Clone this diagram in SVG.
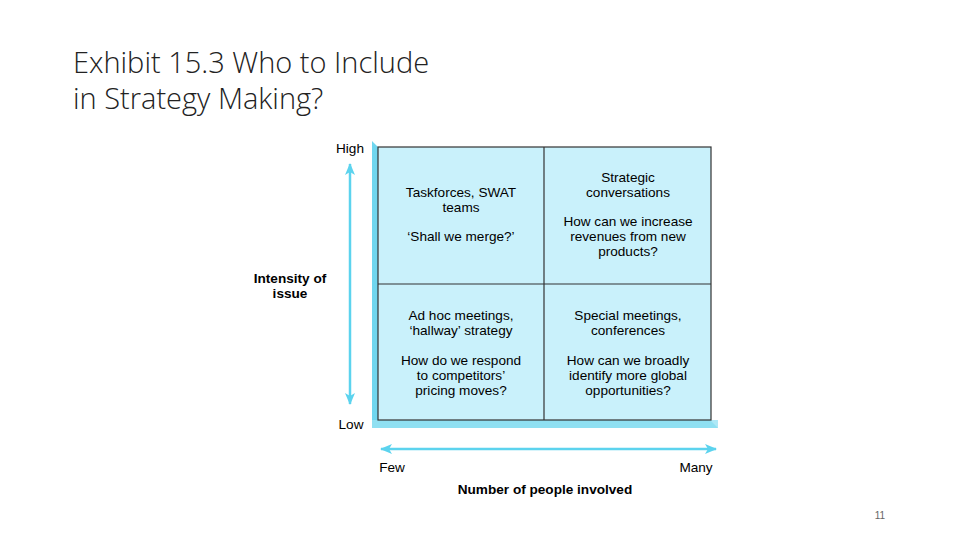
<svg xmlns="http://www.w3.org/2000/svg" width="960" height="540" viewBox="0 0 960 540">
<defs>
<style>
.t{font-family:"Liberation Sans",Arial,sans-serif;font-size:13.6px;fill:#000;text-anchor:middle}
.b{font-weight:bold}
.title{font-family:"Open Sans","Liberation Sans",sans-serif;font-weight:300;font-size:29px;fill:#222}
.ax{stroke:#5cd3ee;stroke-width:2.5;fill:none}
</style>
<marker id="ah" viewBox="0 0 12 10" refX="11" refY="5" markerWidth="12" markerHeight="10" markerUnits="userSpaceOnUse" orient="auto-start-reverse">
<path d="M0,0 L12,5 L0,10 L3,5 Z" fill="#5cd3ee"/>
</marker>
<linearGradient id="band" x1="0" y1="0" x2="1" y2="0">
<stop offset="0" stop-color="#6fd6ef"/><stop offset="1" stop-color="#aee8f6"/>
</linearGradient>
</defs>
<rect width="960" height="540" fill="#fff"/>
<text class="title" x="73" y="73">Exhibit 15.3 Who to Include</text>
<text class="title" x="73" y="109">in Strategy Making?</text>
<g id="frame">
<polygon points="372,141 378,147 378,420 718,420 718,428 372,428" fill="url(#band)"/>
<polygon points="710,420 718,428 372,428 372,420" fill="#8fe0f2"/>
<rect x="378" y="147" width="333" height="273" fill="#c9f1fb" stroke="#333" stroke-width="1.2"/>
<line x1="544" y1="147" x2="544" y2="420" stroke="#333" stroke-width="1.2"/>
<line x1="378" y1="284" x2="711" y2="284" stroke="#333" stroke-width="1.2"/>
</g>
<g id="connectors">
<line class="ax" x1="350" y1="164" x2="350" y2="404" marker-start="url(#ah)" marker-end="url(#ah)"/>
<line class="ax" x1="381" y1="449" x2="716" y2="449" marker-start="url(#ah)" marker-end="url(#ah)"/>
</g>
<g id="cell-tl">
<text class="t" x="461" y="197">Taskforces, SWAT</text>
<text class="t" x="461" y="212">teams</text>
<text class="t" x="461" y="241">‘Shall we merge?’</text>
</g>
<g id="cell-tr">
<text class="t" x="628" y="182">Strategic</text>
<text class="t" x="628" y="197">conversations</text>
<text class="t" x="628" y="226">How can we increase</text>
<text class="t" x="628" y="241">revenues from new</text>
<text class="t" x="628" y="256">products?</text>
</g>
<g id="cell-bl">
<text class="t" x="461" y="320">Ad hoc meetings,</text>
<text class="t" x="461" y="335">‘hallway’ strategy</text>
<text class="t" x="461" y="365">How do we respond</text>
<text class="t" x="461" y="380">to competitors’</text>
<text class="t" x="461" y="395">pricing moves?</text>
</g>
<g id="cell-br">
<text class="t" x="628" y="320">Special meetings,</text>
<text class="t" x="628" y="335">conferences</text>
<text class="t" x="628" y="365">How can we broadly</text>
<text class="t" x="628" y="380">identify more global</text>
<text class="t" x="628" y="395">opportunities?</text>
</g>
<g id="labels">
<text class="t" x="350" y="153">High</text>
<text class="t" x="351" y="429">Low</text>
<text class="t" x="392" y="472">Few</text>
<text class="t" x="696" y="472">Many</text>
<text class="t b" x="545" y="494">Number of people involved</text>
<text class="t b" x="290" y="283">Intensity of</text>
<text class="t b" x="290" y="298">issue</text>
</g>
<text x="880" y="519" font-family="Liberation Sans,sans-serif" font-size="10" fill="#666" text-anchor="middle">11</text>
</svg>
